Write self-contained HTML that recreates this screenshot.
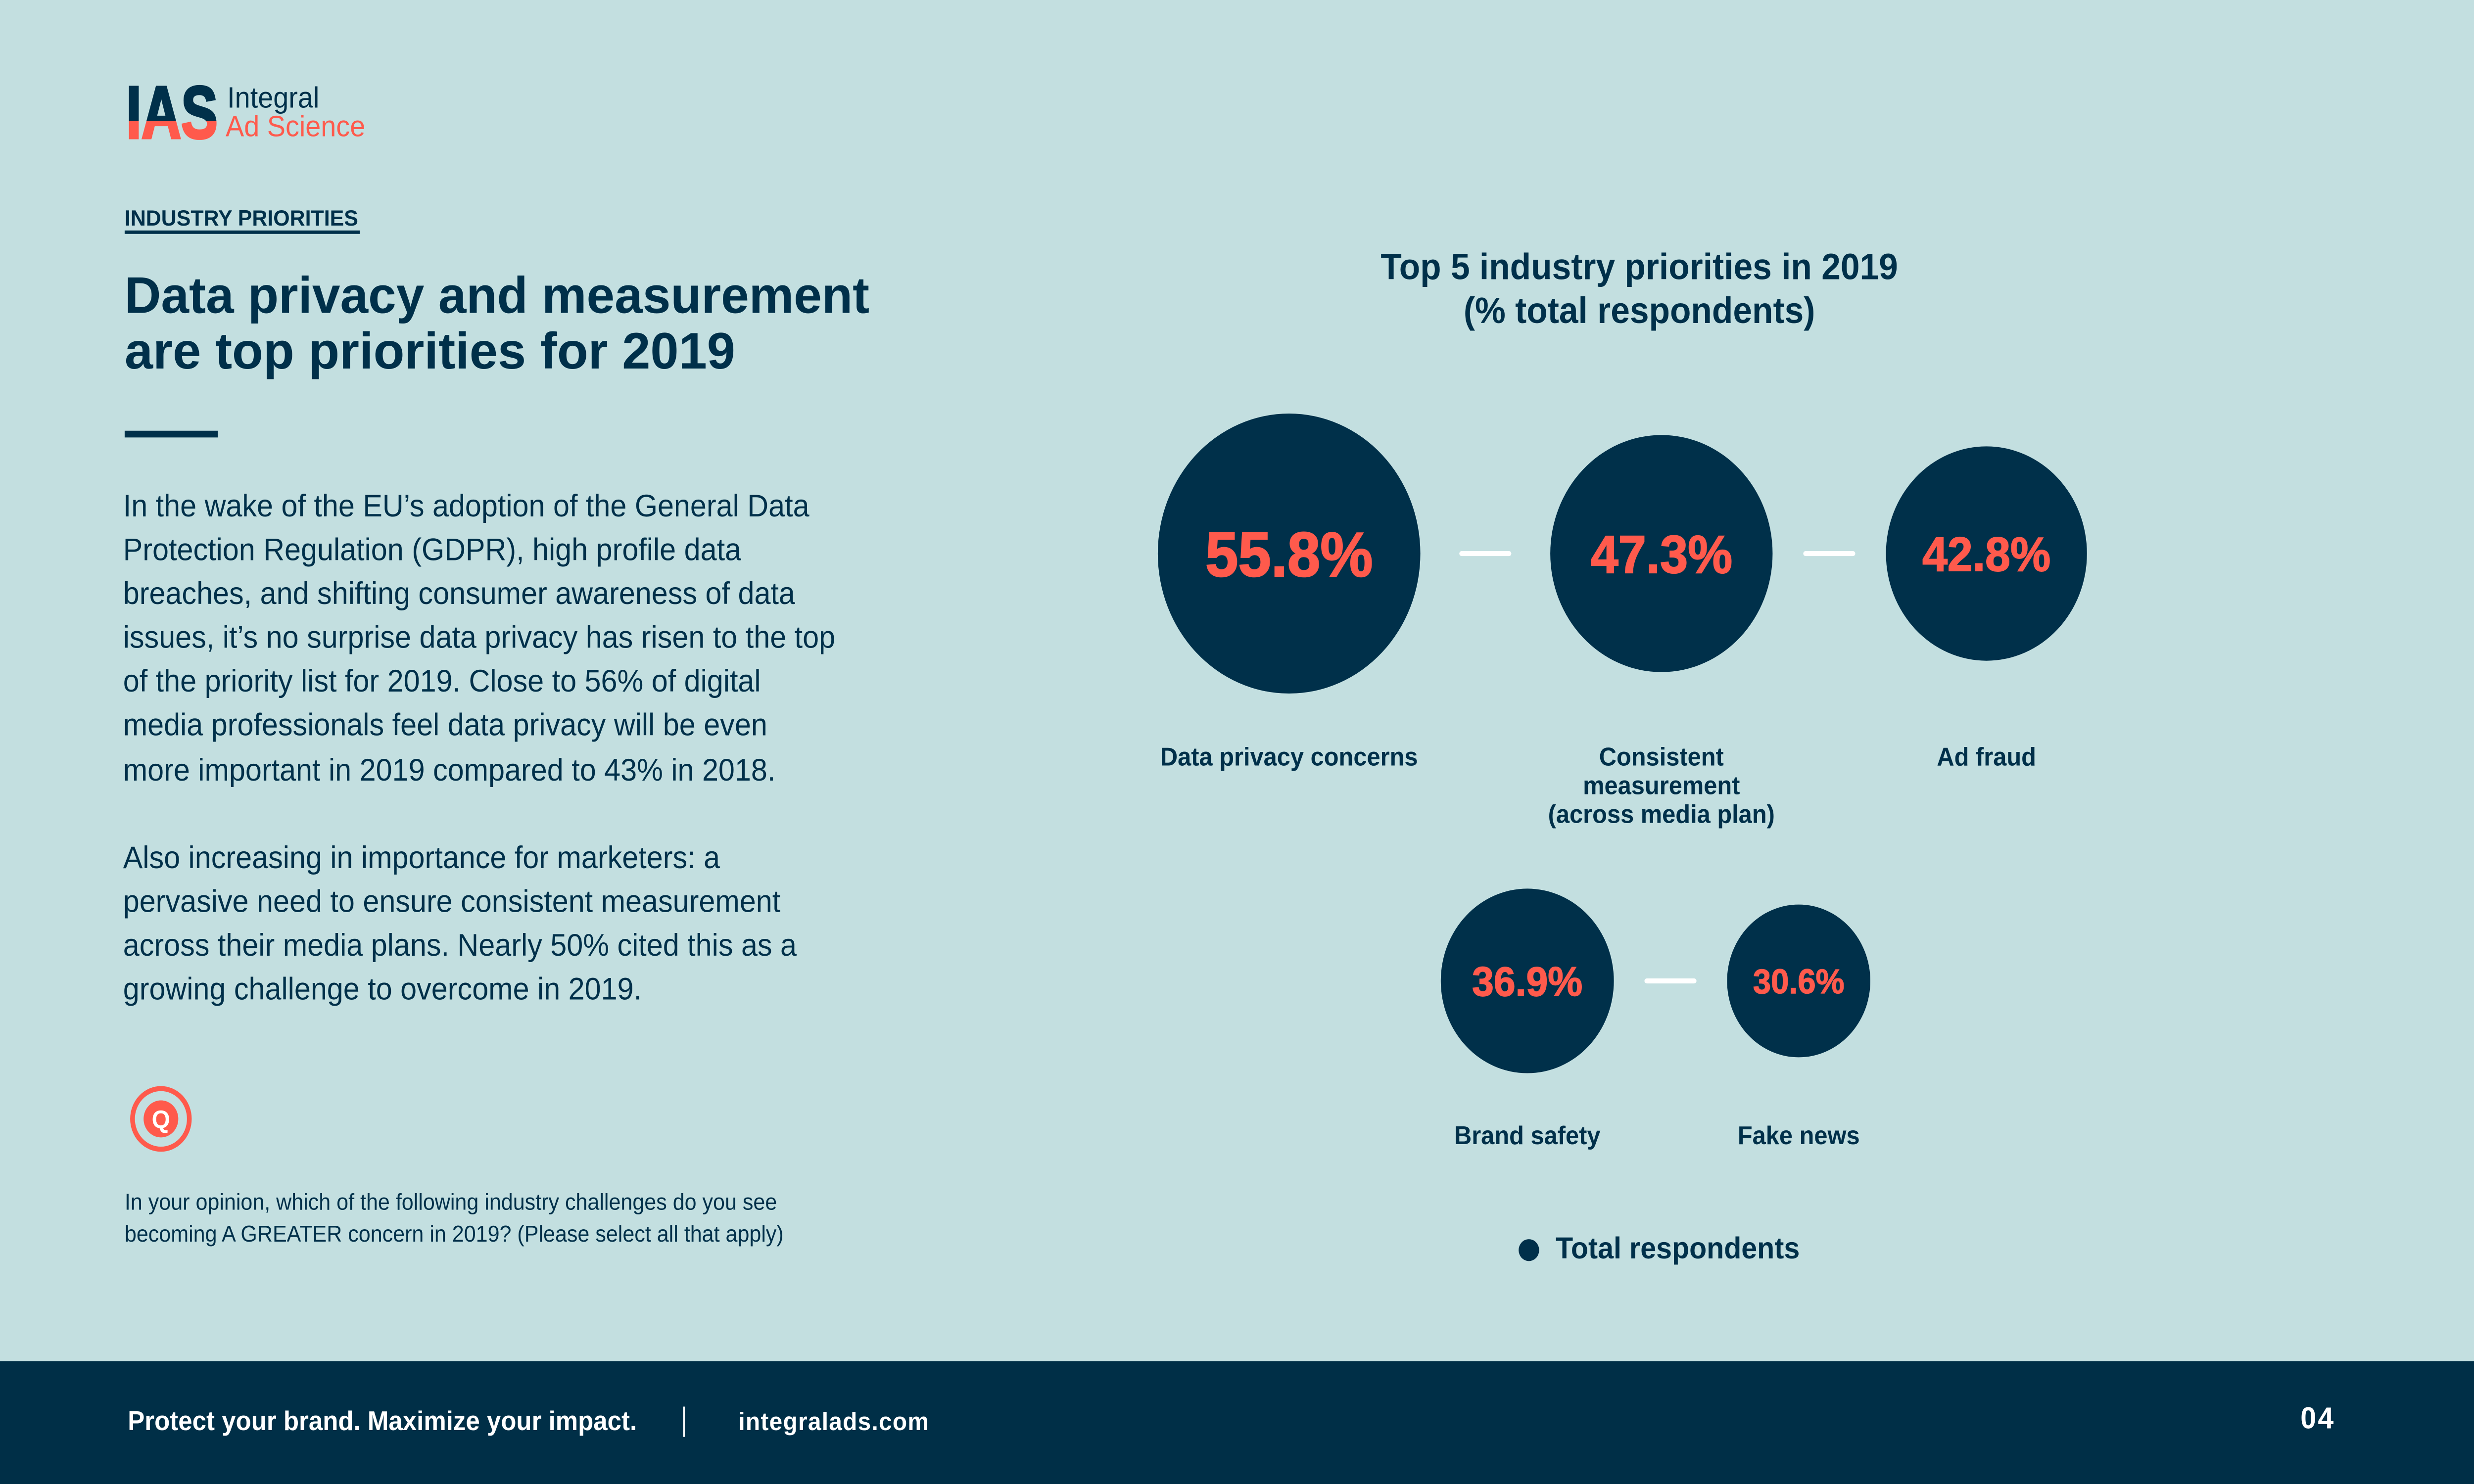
<!DOCTYPE html>
<html><head><meta charset="utf-8"><style>
html,body{margin:0;padding:0;width:100%;height:100%;overflow:hidden;background:#c3dfe0}
#page{display:block;width:100vw;height:100vh;font-family:"Liberation Sans",sans-serif}
</style></head><body>
<svg id="page" viewBox="0 0 1568 882" preserveAspectRatio="none">
 <rect x="0" y="0" width="1568" height="882" fill="#c3dfe0"/>
 <g transform="translate(80,46)">
  <defs><clipPath id="top"><rect x="-5" y="0" width="70" height="26"/></clipPath><clipPath id="bot"><rect x="-5" y="26" width="70" height="20"/></clipPath></defs>
  <g clip-path="url(#top)" fill="#00304a" font-weight="bold" font-size="44" stroke="#00304a" stroke-width="1.5"><text x="0" y="36" textLength="58" lengthAdjust="spacingAndGlyphs">IAS</text></g>
  <g clip-path="url(#bot)" fill="#ff5a4c" font-weight="bold" font-size="44" stroke="#ff5a4c" stroke-width="1.5"><text x="0" y="36" textLength="58" lengthAdjust="spacingAndGlyphs">IAS</text></g>
  <text x="64" y="18" font-size="17.5" fill="#00304a">Integral</text>
  <text x="63" y="35" font-size="17.5" fill="#ff5a4c">Ad Science</text>
 </g>
 <text x="79" y="134" font-size="13" font-weight="bold" fill="#00304a" textLength="148" lengthAdjust="spacingAndGlyphs">INDUSTRY PRIORITIES</text>
 <rect x="79" y="137" width="149" height="2" fill="#00304a"/>
 <g font-size="30.5" font-weight="bold" fill="#00304a">
  <text x="79" y="186" textLength="472" lengthAdjust="spacingAndGlyphs">Data privacy and measurement</text>
  <text x="79" y="219" textLength="387" lengthAdjust="spacingAndGlyphs">are top priorities for 2019</text>
 </g>
 <rect x="79" y="256" width="59" height="4" fill="#00304a"/>
 <g font-size="18.6" fill="#00304a">
  <text x="78" y="307">In the wake of the EU’s adoption of the General Data</text>
  <text x="78" y="333">Protection Regulation (GDPR), high profile data</text>
  <text x="78" y="359">breaches, and shifting consumer awareness of data</text>
  <text x="78" y="385">issues, it’s no surprise data privacy has risen to the top</text>
  <text x="78" y="411">of the priority list for 2019. Close to 56% of digital</text>
  <text x="78" y="437">media professionals feel data privacy will be even</text>
  <text x="78" y="464">more important in 2019 compared to 43% in 2018.</text>
 </g>
 <g font-size="18.6" fill="#00304a">
  <text x="78" y="516">Also increasing in importance for marketers: a</text>
  <text x="78" y="542">pervasive need to ensure consistent measurement</text>
  <text x="78" y="568">across their media plans. Nearly 50% cited this as a</text>
  <text x="78" y="594">growing challenge to overcome in 2019.</text>
 </g>
 <g>
  <circle cx="102" cy="665" r="18" fill="none" stroke="#ff5a4c" stroke-width="3"/>
  <circle cx="102" cy="665" r="11" fill="#ff5a4c"/>
  <text x="102" y="670.5" text-anchor="middle" font-size="15" font-weight="bold" fill="#fff">Q</text>
 </g>
 <g font-size="13.5" fill="#00304a">
  <text x="79" y="719">In your opinion, which of the following industry challenges do you see</text>
  <text x="79" y="738">becoming A GREATER concern in 2019? (Please select all that apply)</text>
 </g>
 <g>
  <text x="1039" y="166" text-anchor="middle" font-size="21.8" font-weight="bold" fill="#00304a">Top 5 industry priorities in 2019</text>
  <text x="1039" y="192" text-anchor="middle" font-size="21.8" font-weight="bold" fill="#00304a">(% total respondents)</text>
  <g id="marks"></g>
  <circle cx="969" cy="743" r="6.5" fill="#00304a"/>
  <text x="986" y="748" font-size="18" font-weight="bold" fill="#00304a">Total respondents</text>
 </g>
 <g>
  <rect x="0" y="809" width="1568" height="73" fill="#002f47"/>
  <text x="81" y="850" font-size="16" font-weight="bold" fill="#fff">Protect your brand. Maximize your impact.</text>
  <rect x="433" y="836" width="1" height="18" fill="#fff"/>
  <text x="468" y="850" font-size="15" font-weight="bold" fill="#fff" letter-spacing="0.4">integralads.com</text>
  <text x="1458" y="849" font-size="18" font-weight="bold" fill="#fff" letter-spacing="1">04</text>
 </g>
</svg>
<script>
const categories = ["Data privacy concerns", "Consistent\nmeasurement\n(across media plan)", "Ad fraud", "Brand safety", "Fake news"];
const values = [55.8, 47.3, 42.8, 36.9, 30.6];
const valueLabels = ["55.8%", "47.3%", "42.8%", "36.9%", "30.6%"];
// layout slots (not data)
const rows = [[0,1,2],[3,4]];
const rowY = [329, 583];
const rowLabelY = [455, 680];
const rowX = [[817,1053,1259],[968,1140]];
function rScale(v){ return 1.5 * v - 0.5; }
const NS = "http://www.w3.org/2000/svg";
const g = document.getElementById("marks");
function mk(tag, attrs){ const e = document.createElementNS(NS, tag); for (const k in attrs) e.setAttribute(k, attrs[k]); return e; }
rows.forEach((row, ri) => {
  row.forEach((idx, j) => {
    const cx = rowX[ri][j], cy = rowY[ri], r = rScale(values[idx]);
    const c = mk("circle", {cx: cx, cy: cy, r: r, fill: "#00304a"});
    
    
    g.appendChild(c);
    const fs = r * 0.45;
    const t = mk("text", {x: cx, y: cy + fs*0.36, "text-anchor": "middle", "font-size": fs, "font-weight": "bold", fill: "#ff5a4c", stroke: "#ff5a4c", "stroke-width": fs*0.02});
    t.textContent = valueLabels[idx];
    
    
    g.appendChild(t);
    const lines = categories[idx].split("\n");
    lines.forEach((ln, li) => {
      const l = mk("text", {x: cx, y: rowLabelY[ri] + li*17, "text-anchor": "middle", "font-size": 15.3, "font-weight": "bold", fill: "#00304a"});
      l.textContent = ln;
      
      
      g.appendChild(l);
    });
    if (j > 0) {
      const prev = row[j-1];
      const a = rowX[ri][j-1] + rScale(values[prev]), b = cx - r;
      const m = (a + b) / 2;
      const d = mk("line", {x1: m - 15, x2: m + 15, y1: cy, y2: cy, stroke: "#ffffff", "stroke-width": 3, "stroke-linecap": "round"});
      
      
      g.appendChild(d);
    }
  });
});
</script>
</body></html>
